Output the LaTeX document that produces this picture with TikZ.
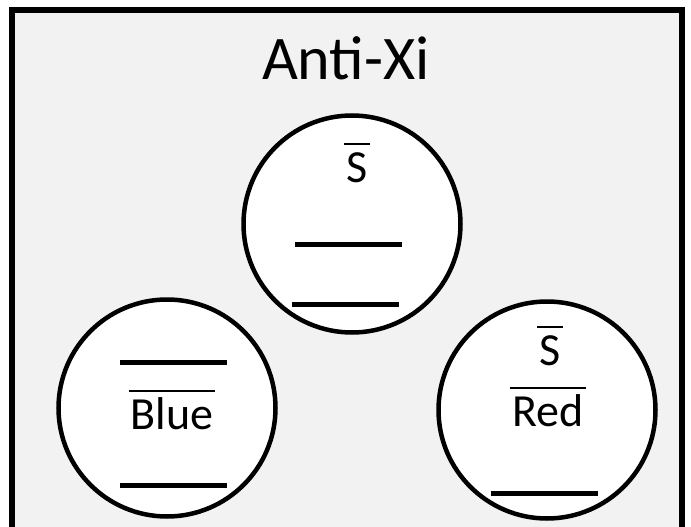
\documentclass[tikz,border=0pt]{standalone}
\usepackage{fontspec}
\setmainfont{Carlito}
\definecolor{panel}{HTML}{F2F2F2}
\tikzset{
  quark/.style={circle, draw, line width=4.5pt, fill=white, minimum size=217pt, inner sep=0pt},
  slot/.style={line width=5pt},
  lbl/.style={font=\fontsize{46}{50}\selectfont, inner sep=0pt, anchor=base},
}
% bar over a word, set a little higher than \overline
\newcommand{\anti}[1]{\setbox0\hbox{#1}\hbox{\rlap{\kern-2pt\raisebox{37.5pt}{\rule{\dimexpr\wd0+4pt\relax}{1.8pt}}}\box0}}
\begin{document}
\begin{tikzpicture}[x=1pt, y=-1pt]
		\useasboundingbox (0,0) rectangle (691,527);
		\draw[line width=5.5pt, fill=panel] (12,10) rectangle (682,545);
		\node[font=\fontsize{62}{70}\selectfont, inner sep=0pt, anchor=base] (title) at (346,80) {Anti-Xi};
		
		\node[quark] (top) at (352,224) {};
		\node[quark] (left) at (167,408) {};
		\node[quark] (right) at (547,410) {};
		
		\node[lbl] (topS) at (357,182) {\anti{S}};
		\node[lbl] (rightS) at (550,365) {\anti{S}};
		\node[lbl] (blue) at (172,429) {\anti{Blue}};
		\node[lbl] (red) at (548,426) {\anti{Red}};
		
		\foreach \x/\y in {295/244, 292/304, 120/362, 120/485, 491/493}
			\draw[slot] (\x,\y) -- ++(107,0);
	\end{tikzpicture}
\end{document}
